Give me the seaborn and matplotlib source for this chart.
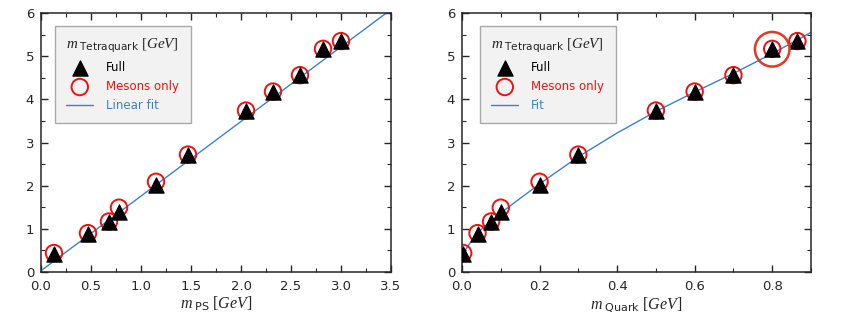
import numpy as np
import pandas as pd
import matplotlib
matplotlib.use('Agg')
import matplotlib.pyplot as plt
import seaborn as sns
from matplotlib.ticker import MultipleLocator

# data
m_ps = [0.13, 0.47, 0.68, 0.78, 1.15, 1.47, 2.05, 2.32, 2.59, 2.82, 3.0]
m_quark = [0.003, 0.04, 0.075, 0.1, 0.2, 0.3, 0.5, 0.6, 0.7, 0.8, 0.865]
m_tetra_full = [0.42, 0.89, 1.16, 1.38, 2.01, 2.70, 3.73, 4.17, 4.56, 5.16, 5.35]
m_tetra_mesons = [0.44, 0.90, 1.17, 1.49, 2.09, 2.72, 3.74, 4.18, 4.56, 5.17, 5.35]

lin_fit_x = [0.0, 3.5]
lin_fit_y = [0.03, 6.08]
fit_x = [0.0, 0.04, 0.08, 0.1, 0.2, 0.3, 0.4, 0.5, 0.6, 0.7, 0.8, 0.9]
fit_y = [0.40, 0.92, 1.20, 1.37, 2.04, 2.67, 3.22, 3.72, 4.17, 4.60, 5.06, 5.55]

highlight = (0.8, 5.16)

sns.set_style('ticks')
plt.rcParams['font.family'] = ['DejaVu Sans']
plt.rcParams['mathtext.fontset'] = 'custom'
plt.rcParams['mathtext.rm'] = 'Liberation Serif'
plt.rcParams['mathtext.it'] = 'Liberation Serif:italic'
plt.rcParams['mathtext.sf'] = 'DejaVu Sans'

df_left = pd.DataFrame({'x': m_ps, 'full': m_tetra_full, 'mes': m_tetra_mesons})
df_right = pd.DataFrame({'x': m_quark, 'full': m_tetra_full, 'mes': m_tetra_mesons})

fig = plt.figure(figsize=(8.47, 3.24), dpi=100)
ax1 = fig.add_axes([41/847, 1 - 272/324, 350/847, 259/324])
ax2 = fig.add_axes([462/847, 1 - 272/324, 349/847, 259/324])

blue = '#3b82c8'
red = '#ee1111'


def draw(ax, df, lx, ly, fit_label, anchor):
    sns.lineplot(x=lx, y=ly, ax=ax, color=blue, linewidth=1.0, label=fit_label, zorder=1)
    sns.scatterplot(data=df, x='x', y='full', ax=ax, marker='^', s=120, color='black',
                    edgecolor='black', label='Full', zorder=3)
    sns.scatterplot(data=df, x='x', y='mes', ax=ax, marker='o', s=140, facecolor='none',
                    edgecolor=red, linewidth=1.4, label='Mesons only', zorder=2)
    ax.set_ylim(0, 6)
    ax.yaxis.set_major_locator(MultipleLocator(1))
    ax.yaxis.set_minor_locator(MultipleLocator(0.5))
    ax.tick_params(which='both', direction='in', top=True, right=True, labelsize=9.5)
    ax.tick_params(which='major', length=5, width=1)
    ax.tick_params(which='minor', length=3, width=0.8)
    ax.tick_params(axis='x', which='major', pad=6)
    ax.tick_params(axis='y', which='major', pad=5)
    for s in ax.spines.values():
        s.set_linewidth(1.1)
    h, l = ax.get_legend_handles_labels()
    order = [1, 2, 0]
    leg = ax.legend([h[i] for i in order], [l[i] for i in order],
                    title=r'$m_{\mathsf{\ Tetraquark}}\ [GeV]$',
                    loc='upper left', bbox_to_anchor=anchor, frameon=True,
                    fancybox=False, facecolor='#f2f2f2', edgecolor='#aaaaaa',
                    framealpha=1, fontsize=8.5, title_fontsize=10.8, borderpad=0.95,
                    handlelength=2.3, handletextpad=1.1, labelspacing=0.5,
                    borderaxespad=0)
    leg.get_frame().set_linewidth(1.0)
    leg._legend_box.align = 'left'
    cols = ['black', red, blue]
    for t, c in zip(leg.get_texts(), cols):
        t.set_color(c)


draw(ax1, df_left, lin_fit_x, lin_fit_y, 'Linear fit', (14/350, 246/259))
ax1.set_xlim(0, 3.5)
ax1.xaxis.set_major_locator(MultipleLocator(0.5))
ax1.xaxis.set_minor_locator(MultipleLocator(0.25))
ax1.set_xlabel(r'$m_{\mathsf{\ PS}}\ [GeV]$', fontsize=11.5, labelpad=1)
ax1.set_ylabel('')

draw(ax2, df_right, fit_x, fit_y, 'Fit', (18/349, 246/259))
ax2.set_xlim(0, 0.9)
ax2.xaxis.set_major_locator(MultipleLocator(0.2))
ax2.xaxis.set_minor_locator(MultipleLocator(0.1))
ax2.set_xlabel(r'$m_{\mathsf{\ Quark}}\ [GeV]$', fontsize=11.5, labelpad=1)
ax2.set_ylabel('')
ax2.scatter([highlight[0]], [highlight[1]], s=620, facecolor='none',
            edgecolor='#e03a24', linewidth=1.8, zorder=4)

fig.savefig('out.png', dpi=100)
